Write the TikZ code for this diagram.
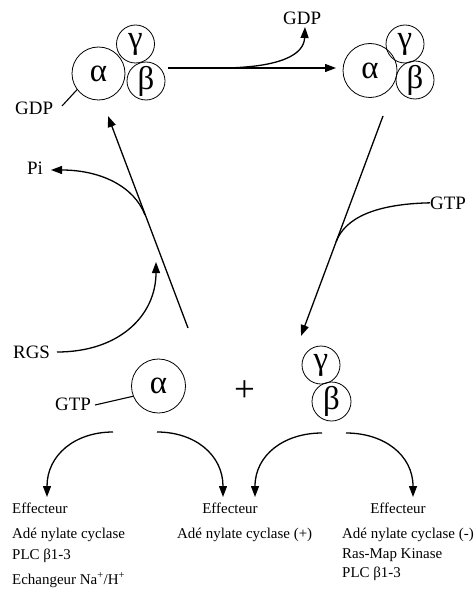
\documentclass[tikz,border=0pt]{standalone}
\usepackage{fontspec}
\setmainfont{Liberation Serif}
\usetikzlibrary{arrows.meta}
\begin{document}
\begin{tikzpicture}[x=1bp,y=-1bp,
  sub/.style={circle,draw,line width=0.8bp,inner sep=0pt,font=\fontsize{33}{33}\selectfont},
  lbl/.style={inner sep=0pt,anchor=base west,font=\fontsize{19}{22}\selectfont},
  eff/.style={inner sep=0pt,anchor=base west,font=\fontsize{15}{18}\selectfont},
  conn/.style={line width=1.3bp},
  arr/.style={conn,-{Triangle[length=11bp,width=8bp]}}]
\useasboundingbox (0,0) rectangle (476,592);
% subunits
\node[sub,minimum size=53bp] (a1) at (98.5,73.5) {α};
\node[sub,minimum size=38bp] (g1) at (135.5,44) {γ};
\node[sub,minimum size=38bp] (b1) at (146,81) {β};
\node[sub,minimum size=54bp] (a2) at (370,70.5) {α};
\node[sub,minimum size=38bp] (g2) at (405,44) {γ};
\node[sub,minimum size=38bp] (b2) at (415,80) {β};
\node[sub,minimum size=54bp] (a3) at (158.5,386) {α};
\node[sub,minimum size=38bp] (g3) at (321,365) {γ};
\node[sub,minimum size=39bp] (b3) at (331.5,401.5) {β};
% labels
\node[lbl] (gdp1) at (15,115) {GDP};
\node[lbl] (gdp2) at (283,25) {GDP};
\node[lbl] (pi) at (27,175) {Pi};
\node[lbl] (rgs) at (13,358) {RGS};
\node[lbl] (gtp1) at (55,410) {GTP};
\node[lbl] (gtp2) at (430,209) {GTP};
\node[inner sep=0pt,font=\fontsize{37}{40}\selectfont] (plus) at (244.5,391.5) {+};
% effectors
\node[eff] (e1) at (12,513) {Effecteur};
\node[eff] (e1a) at (12,538) {Adé nylate cyclase};
\node[eff] (e1b) at (12,559) {PLC β1-3};
\node[eff] (e1c) at (12,584) {Echangeur Na\textsuperscript{+}/H\textsuperscript{+}};
\node[eff,anchor=base] (e2) at (230,513) {Effecteur};
\node[eff] (e2a) at (177,538) {Adé nylate cyclase (+)};
\node[eff,anchor=base] (e3) at (398,513) {Effecteur};
\node[eff] (e3a) at (342,538) {Adé nylate cyclase (-)};
\node[eff] (e3b) at (342,558) {Ras-Map Kinase};
\node[eff] (e3c) at (342,577) {PLC β1-3};
% coordinates
\coordinate (gdp1e) at (62,106);
\coordinate (hs) at (168,68);
\coordinate (he) at (336,68);
\coordinate (gds) at (225,68);
\coordinate (gdt) at (305,27);
\coordinate (ds) at (383,116);
\coordinate (de) at (301,336);
\coordinate (gtpm) at (336,242);
\coordinate (us) at (188,328);
\coordinate (ue) at (108,116);
\coordinate (pis) at (145,215);
\coordinate (pit) at (51,170);
\coordinate (rgss) at (57,352);
\coordinate (rgst) at (156,262);
\coordinate (gtp1e) at (95,405);
\coordinate (l1s) at (113,432);
\coordinate (l1t) at (47,497);
\coordinate (l2s) at (157,432);
\coordinate (l2t) at (223,497);
\coordinate (r1s) at (322,433);
\coordinate (r1t) at (255,497);
\coordinate (r2s) at (346,433);
\coordinate (r2t) at (413,497);
% connectors
\draw[conn,line width=1.1bp] (gdp1e) -- (a1.217);
\draw[arr] (hs) -- (he);
\draw[arr] (gds) .. controls (280,67) and (304,55) .. (gdt);
\draw[arr] (ds) -- (de);
\draw[conn] (gtp2.west) .. controls (375,204) and (345,218) .. (gtpm);
\draw[arr] (us) -- (ue);
\draw[arr] (pis) .. controls (134,186) and (100,170) .. (pit);
\draw[arr] (rgss) .. controls (120,352) and (156,315) .. (rgst);
\draw[conn,line width=1.1bp] (gtp1e) -- (a3.202);
\draw[arr] (l1s) .. controls (75,432) and (47,455) .. (l1t);
\draw[arr] (l2s) .. controls (195,432) and (223,455) .. (l2t);
\draw[arr] (r1s) .. controls (284,433) and (255,455) .. (r1t);
\draw[arr] (r2s) .. controls (384,433) and (413,455) .. (r2t);
\end{tikzpicture}
\end{document}
